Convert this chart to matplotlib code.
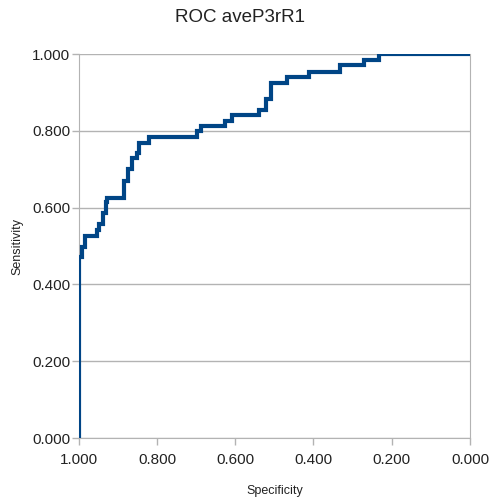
import matplotlib.pyplot as plt
import numpy as np

plt.rcParams["font.family"] = ["Liberation Sans", "DejaVu Sans"]

# step corners of the ROC curve (specificity, sensitivity level after the jump)
specificity = [1.000, 1.000, 0.991, 0.984, 0.954, 0.947, 0.937, 0.931, 0.929,
               0.927, 0.884, 0.873, 0.865, 0.850, 0.846, 0.820, 0.698, 0.688,
               0.626, 0.609, 0.539, 0.521, 0.509, 0.468, 0.411, 0.332, 0.271,
               0.233, 0.000]
sensitivity = [0.000, 0.472, 0.498, 0.526, 0.543, 0.557, 0.585, 0.600, 0.615,
               0.626, 0.670, 0.700, 0.728, 0.743, 0.769, 0.785, 0.800, 0.813,
               0.826, 0.841, 0.854, 0.883, 0.925, 0.941, 0.954, 0.971, 0.984,
               1.000, 1.000]

ticks = np.arange(0, 1.01, 0.2)

fig = plt.figure(figsize=(4.9, 4.99), dpi=100)
ax = fig.add_axes([0.1606, 0.1222, 0.7986, 0.7695])

ax.plot(specificity, sensitivity, drawstyle="steps-post", color="#004586",
        lw=3.0, solid_joinstyle="miter", zorder=3)

ax.set_xlim(1, 0)
ax.set_ylim(0, 1)
ax.set_xticks(ticks)
ax.set_yticks(ticks)
ax.set_xticklabels([f"{t:.3f}" for t in ticks], fontsize=11)
ax.set_yticklabels([f"{t:.3f}" for t in ticks], fontsize=11)
ax.tick_params(colors="#b3b3b3", labelcolor="#222222", length=5, width=1)
ax.tick_params(axis="x", pad=6)
ax.tick_params(axis="y", pad=1)

ax.yaxis.grid(True, color="#b3b3b3", lw=1)
ax.set_axisbelow(True)
for side in ["left", "bottom", "right"]:
    ax.spines[side].set_color("#b3b3b3")
ax.spines["top"].set_visible(False)

ax.set_xlabel("Specificity", fontsize=9, labelpad=13, color="#222222")
ax.set_ylabel("Sensitivity", fontsize=9, labelpad=6, color="#222222")

fig.text(240 / 490, 1 - 18 / 499, "ROC aveP3rR1", fontsize=13.5,
         ha="center", va="center", color="#222222")

fig.savefig("out.png", dpi=100)
